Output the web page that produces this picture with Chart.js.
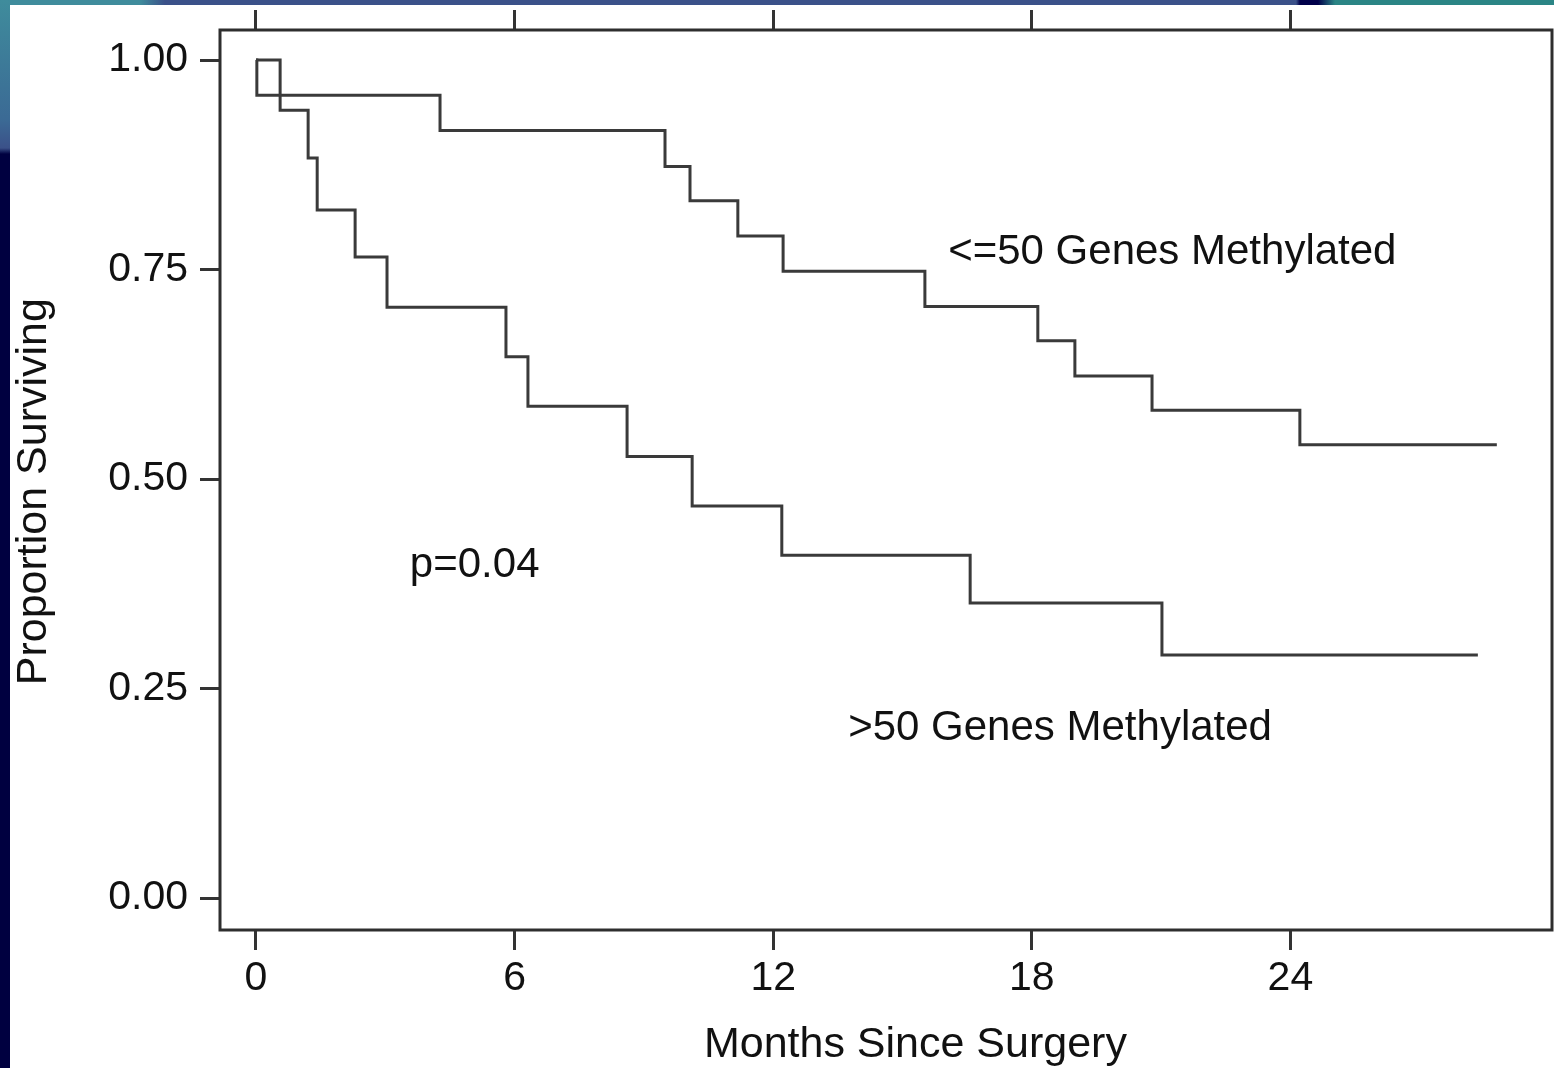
<!DOCTYPE html>
<html>
<head>
<meta charset="utf-8">
<title>Proportion surviving by methylation</title>
<script src="https://cdn.jsdelivr.net/npm/chart.js@4.4.1/dist/chart.umd.min.js"></script>
<style>
  html, body { margin: 0; padding: 0; }
  body { width: 1554px; height: 1068px; position: relative; overflow: hidden; background: #00003c; }
  #topband { position: absolute; left: 0; top: 0; width: 1554px; height: 5px;
    background: linear-gradient(to right, #3f8c9c 0px, #3f8c9c 140px, #3b5189 165px, #3b5189 1296px, #00004a 1300px, #00004a 1318px, #2b8585 1335px, #2b8585 100%); }
  #leftband { position: absolute; left: 0; top: 0; width: 10px; height: 1068px;
    background: linear-gradient(to bottom, #3f8c9c 0px, #3b6a95 120px, #3b5189 148px, #000040 154px, #000040 100%); }
  #paper { position: absolute; left: 10px; top: 5px; right: 0; bottom: 0; background: #fff; }
  #wrap { position: absolute; left: 0; top: 0; width: 1554px; height: 1068px; }
</style>
</head>
<body>
<div id="topband"></div>
<div id="leftband"></div>
<div id="paper"></div>
<div id="wrap"><canvas id="km"></canvas></div>
<script>
// Kaplan-Meier curves (months, proportion surviving)
const lowMonths = [0, 0.02, 4.27, 9.49, 10.07, 11.18, 12.23, 15.52, 18.14, 19.0, 20.79, 24.22, 28.79];
const lowSurvival = [1.0, 0.958, 0.916, 0.873, 0.832, 0.790, 0.748, 0.706, 0.665, 0.623, 0.582, 0.541, 0.541];
const highMonths = [0, 0.56, 1.21, 1.42, 2.30, 3.04, 5.80, 6.31, 8.61, 10.12, 12.20, 16.57, 21.02, 28.35];
const highSurvival = [1.0, 0.94, 0.883, 0.821, 0.765, 0.705, 0.646, 0.587, 0.527, 0.468, 0.409, 0.352, 0.290, 0.290];
const seriesNames = ['<=50 Genes Methylated', '>50 Genes Methylated'];
const xTickValues = [0, 6, 12, 18, 24];
const yTickValues = [0, 0.25, 0.5, 0.75, 1];
const pValueText = 'p=0.04';
const xTitle = 'Months Since Surgery';
const yTitle = 'Proportion Surviving';

const FONT = '"Liberation Sans", Arial, Helvetica, sans-serif';
const INK = '#111';
const LINE = '#3a3a3a';

function toPoints(xs, ys) {
    return xs.map((x, i) => ({x: x, y: ys[i]}));
}

// box around the plot, axis titles and the text labels inside the plot
const framePlugin = {
    id: 'frame',
    afterDatasetsDraw(chart) {
        const {ctx, chartArea: a, scales} = chart;
        ctx.save();
        ctx.strokeStyle = '#2e2e2e';
        ctx.lineWidth = 3;
        ctx.strokeRect(a.left, a.top, a.right - a.left, a.bottom - a.top);

        ctx.fillStyle = INK;
        ctx.font = '42px ' + FONT;
        ctx.textBaseline = 'middle';
        ctx.textAlign = 'left';
        const labels = [
            [seriesNames[0], 16.06, 0.771],
            [pValueText, 3.57, 0.397],
            [seriesNames[1], 13.74, 0.203]
        ];
        labels.forEach(([txt, x, y]) => {
            ctx.fillText(txt, scales.x.getPixelForValue(x), scales.y.getPixelForValue(y));
        });

        // axis titles (the source sets them a bit off the plot centre)
        ctx.font = '43px ' + FONT;
        ctx.textAlign = 'center';
        ctx.fillText(xTitle, scales.x.getPixelForValue(15.3), 1045);
        ctx.translate(34, scales.y.getPixelForValue(0.485));
        ctx.rotate(-Math.PI / 2);
        ctx.fillText(yTitle, 0, 0);
        ctx.restore();
    }
};

const tickGrid = {
    display: true,
    drawOnChartArea: false,
    drawTicks: true,
    tickLength: 20,
    tickWidth: 3,
    tickColor: '#333',
    lineWidth: 3,
    color: '#333'
};

new Chart(document.getElementById('km'), {
    type: 'line',
    data: {
        datasets: [
            {
                label: seriesNames[0],
                data: toPoints(lowMonths, lowSurvival),
                stepped: true,
                borderColor: LINE,
                borderWidth: 3,
                pointRadius: 0,
                fill: false
            },
            {
                label: seriesNames[1],
                data: toPoints(highMonths, highSurvival),
                stepped: true,
                borderColor: LINE,
                borderWidth: 3,
                pointRadius: 0,
                fill: false
            }
        ]
    },
    options: {
        responsive: true,
        maintainAspectRatio: false,
        animation: false,
        layout: {padding: {left: 0, right: 2, top: 0, bottom: 0}},
        plugins: {
            legend: {display: false},
            tooltip: {enabled: false}
        },
        scales: {
            x: {
                type: 'linear',
                position: 'bottom',
                min: -0.835,
                max: 30.07,
                afterBuildTicks: s => { s.ticks = xTickValues.map(v => ({value: v})); },
                afterFit: s => { s.height = 138; s.paddingLeft = 0; s.paddingRight = 0; },
                grid: tickGrid,
                border: {display: false},
                ticks: {font: {family: FONT, size: 41}, color: INK, padding: 4, maxRotation: 0}
            },
            xTop: {
                type: 'linear',
                position: 'top',
                min: -0.835,
                max: 30.07,
                afterBuildTicks: s => { s.ticks = xTickValues.map(v => ({value: v})); },
                afterFit: s => { s.height = 30; s.paddingLeft = 0; s.paddingRight = 0; },
                grid: tickGrid,
                border: {display: false},
                ticks: {display: false}
            },
            y: {
                type: 'linear',
                position: 'left',
                min: -0.038,
                max: 1.0358,
                afterBuildTicks: s => { s.ticks = yTickValues.map(v => ({value: v})); },
                afterFit: s => { s.width = 220; s.paddingTop = 0; s.paddingBottom = 0; },
                grid: tickGrid,
                border: {display: false},
                ticks: {
                    font: {family: FONT, size: 41},
                    color: INK,
                    padding: 12,
                    callback: v => Number(v).toFixed(2)
                }
            }
        }
    },
    plugins: [framePlugin]
});
</script>
</body>
</html>
